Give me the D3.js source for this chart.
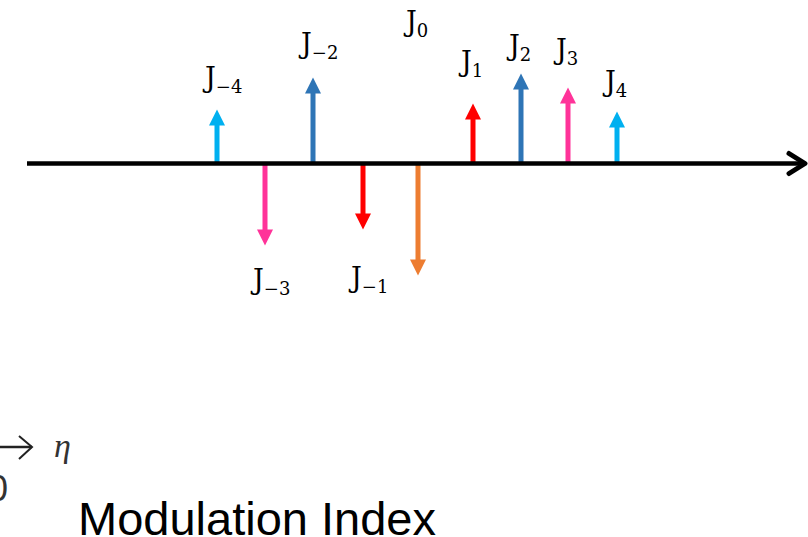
<!DOCTYPE html>
<html>
<head>
<meta charset="utf-8">
<script src="https://cdn.jsdelivr.net/npm/d3@7"></script>
<style>
	body { margin: 0; background: #fff; }
	svg { display: block; }
</style>
</head>
<body>
<script>
// data
var orders = [-4, -3, -2, -1, 0, 1, 2, 3, 4];
// sideband positions (in units of the modulating frequency)
var offsets = [-4, -3.04, -2.08, -1.08, 0.02, 1.12, 2.08, 3.02, 4];
// Bessel amplitudes J_n, as drawn
var amplitudes = [0.27, -0.41, 0.43, -0.33, -0.56, 0.30, 0.45, 0.38, 0.26];
// height at which each J_n label sits
var labelLevels = [0.36, -0.65, 0.53, -0.64, 0.64, 0.44, 0.52, 0.50, 0.34];
var subscripts = ['\u22124', '\u22123', '\u22122', '\u22121', '0', '1', '2', '3', '4'];
var colors = ['#00b0f0', '#ff3399', '#2e75b6', '#ff0000', '#ed7d31', '#ff0000', '#2e75b6', '#ff3399', '#00b0f0'];
var xTitle = 'Modulation Index';

var dataset = orders.map(function (n, i) {
	return {
		n: n,
		offset: offsets[i],
		value: amplitudes[i],
		label: labelLevels[i],
		sub: subscripts[i],
		color: colors[i],
	};
});

init_chart(dataset);

// chart
function init_chart (dataset) {
	var width = 808;
	var height = 537;
	var axisY = 163.5;

	var svg = d3.select('body')
		.append('svg')
		.attr('width', width)
		.attr('height', height);

	var x = d3.scaleLinear().domain([-4, 4]).range([217, 617]);
	var y = d3.scaleLinear().domain([-1, 1]).range([axisY + 200, axisY - 200]);

	var shaftW = 5;
	var headW = 16;
	var headL = 16;

	function arrowPath (d) {
		var cx = x(d.offset);
		var y0 = y(0);
		var y1 = y(d.value);
		var dir = d.value > 0 ? 1 : -1;   // 1 = up
		var yb = y1 + dir * headL;
		return 'M' + (cx - shaftW / 2) + ',' + y0 +
			'L' + (cx - shaftW / 2) + ',' + yb +
			'L' + (cx - headW / 2) + ',' + yb +
			'L' + cx + ',' + y1 +
			'L' + (cx + headW / 2) + ',' + yb +
			'L' + (cx + shaftW / 2) + ',' + yb +
			'L' + (cx + shaftW / 2) + ',' + y0 + 'Z';
	}

	svg.append('g')
		.attr('class', 'arrows')
		.selectAll('path')
		.data(dataset)
		.enter()
		.append('path')
		.attr('d', arrowPath)
		.attr('fill', function (d) { return d.color; });

	// frequency axis
	svg.append('line')
		.attr('x1', 27)
		.attr('x2', 804)
		.attr('y1', y(0))
		.attr('y2', y(0))
		.attr('stroke', '#000')
		.attr('stroke-width', 4.5);
	svg.append('path')
		.attr('d', 'M789,' + (y(0) - 10) + 'L805,' + y(0) + 'L789,' + (y(0) + 10))
		.attr('fill', 'none')
		.attr('stroke', '#000')
		.attr('stroke-width', 5)
		.attr('stroke-linecap', 'round')
		.attr('stroke-linejoin', 'round');

	// J_n labels
	var labels = svg.append('g')
		.attr('class', 'labels')
		.selectAll('text')
		.data(dataset)
		.enter()
		.append('text')
		.attr('x', function (d) { return x(d.offset) - 12; })
		.attr('y', function (d) { return y(d.label) - 5; })
		.attr('font-family', '"DejaVu Serif", "Liberation Serif", serif')
		.attr('font-size', 27)
		.attr('fill', '#000');
	labels.append('tspan').text('J');
	labels.append('tspan')
		.attr('dx', 0)
		.attr('dy', 6)
		.attr('font-size', 18)
		.text(function (d) { return d.sub; });

	// pasted fragment at the lower left
	svg.append('line')
		.attr('x1', 0).attr('x2', 32)
		.attr('y1', 447).attr('y2', 447)
		.attr('stroke', '#222')
		.attr('stroke-width', 2.5);
	svg.append('path')
		.attr('d', 'M19,436L32,447L19,459')
		.attr('fill', 'none')
		.attr('stroke', '#222')
		.attr('stroke-width', 2);
	svg.append('text')
		.attr('x', 54)
		.attr('y', 457)
		.attr('font-family', '"Liberation Serif", serif')
		.attr('font-style', 'italic')
		.attr('font-size', 34)
		.attr('fill', '#333')
		.text('\u03b7');
	svg.append('text')
		.attr('x', 8)
		.attr('y', 501)
		.attr('text-anchor', 'end')
		.attr('font-family', '"Liberation Sans", sans-serif')
		.attr('font-size', 36)
		.attr('fill', '#333')
		.text('0');

	svg.append('text')
		.attr('x', 78)
		.attr('y', 535)
		.attr('font-family', '"Liberation Sans", Arial, sans-serif')
		.attr('font-size', 47)
		.attr('fill', '#000')
		.text(xTitle);
}
</script>
</body>
</html>
